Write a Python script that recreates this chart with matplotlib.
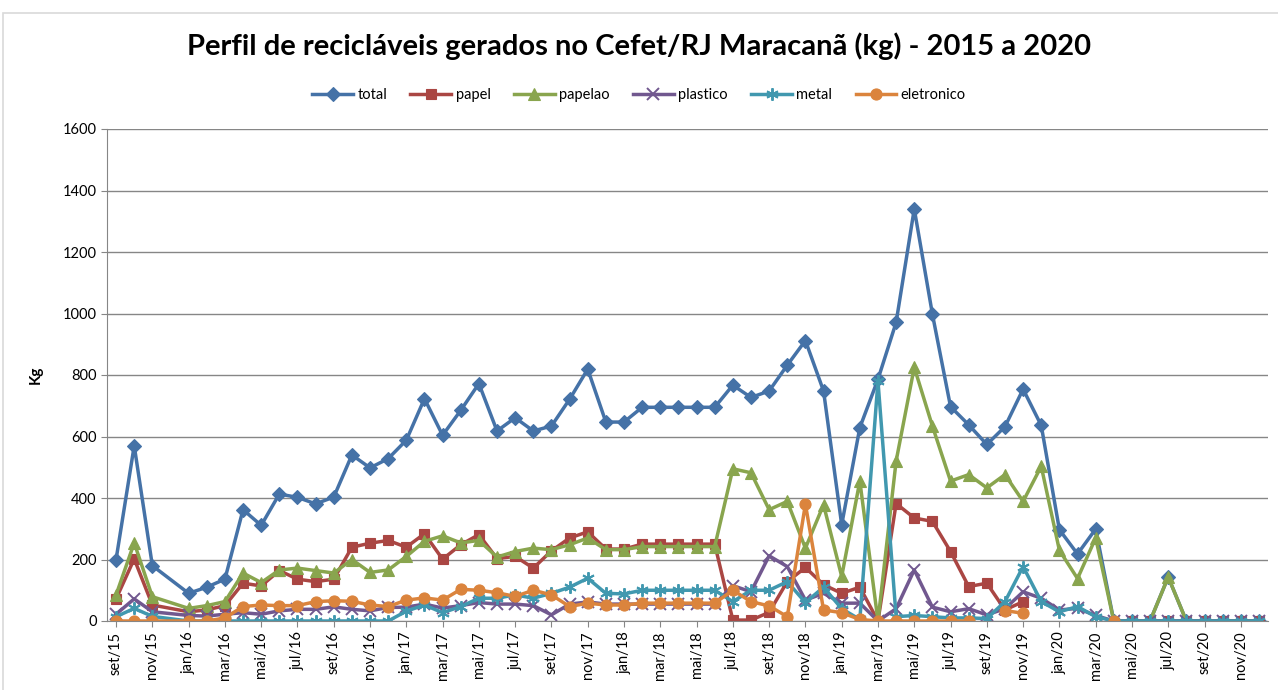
import numpy as np
import matplotlib
matplotlib.use("Agg")
import matplotlib.pyplot as plt
from matplotlib.patches import Rectangle

plt.rcParams['font.family'] = ['Lato', 'DejaVu Sans']

# eixo completo (datas mensais) e meses com registro (dez/15 não existe na planilha)
eixo = ['set/15', 'out/15', 'nov/15', 'dez/15',
        'jan/16', 'fev/16', 'mar/16', 'abr/16', 'mai/16', 'jun/16', 'jul/16', 'ago/16', 'set/16', 'out/16', 'nov/16', 'dez/16',
        'jan/17', 'fev/17', 'mar/17', 'abr/17', 'mai/17', 'jun/17', 'jul/17', 'ago/17', 'set/17', 'out/17', 'nov/17', 'dez/17',
        'jan/18', 'fev/18', 'mar/18', 'abr/18', 'mai/18', 'jun/18', 'jul/18', 'ago/18', 'set/18', 'out/18', 'nov/18', 'dez/18',
        'jan/19', 'fev/19', 'mar/19', 'abr/19', 'mai/19', 'jun/19', 'jul/19', 'ago/19', 'set/19', 'out/19', 'nov/19', 'dez/19',
        'jan/20', 'fev/20', 'mar/20', 'abr/20', 'mai/20', 'jun/20', 'jul/20', 'ago/20', 'set/20', 'out/20', 'nov/20', 'dez/20']
meses = [m for m in eixo if m != 'dez/15']

N = np.nan
total = [200, 570, 180,
         90, 110, 136, 362, 311, 413, 402, 381, 403, 540, 498, 528,
         588, 723, 604, 685, 772, 618, 661, 618, 634, 721, 819, 647,
         647, 695, 695, 695, 695, 695, 767, 727, 748, 832, 912, 748,
         313, 629, 786, 971, 1340, 998, 697, 638, 574, 632, 754, 636,
         297, 218, 299, 0, 0, 0, 143, 0, 0, 0, 0, 0]
papel = [72, 202, 52,
         30, 36, 50, 123, 114, 164, 136, 128, 136, 240, 253, 262,
         240, 284, 201, 248, 281, 203, 210, 172, 228, 270, 290, 234,
         234, 250, 250, 250, 250, 250, 3, 3, 28, 128, 174, 118,
         90, 110, 0, 382, 335, 324, 226, 112, 123, 36, 63, N,
         N, N, N, N, 0, 0, 0, 0, 0, 0, 0, 0]
papelao = [85, 254, 79,
           41, 50, 63, 156, 125, 166, 172, 164, 156, 200, 158, 166,
           210, 259, 277, 254, 262, 208, 226, 237, 232, 248, 270, 232,
           232, 242, 242, 242, 242, 242, 495, 482, 362, 389, 237, 378,
           145, 455, 0, 520, 825, 634, 455, 476, 433, 476, 389, 503,
           230, 138, 270, 0, 0, 0, 143, 0, 0, 0, 0, 0]
plastico = [22, 72, 30,
            18, 16, 22, 27, 22, 33, 38, 38, 46, 38, 33, 44,
            45, 55, 42, 50, 60, 55, 55, 50, 20, 55, 62, 55,
            55, 55, 55, 55, 55, 55, 115, 95, 212, 177, 68, 90,
            58, 58, 0, 40, 166, 45, 30, 40, 20, 40, 95, 74,
            36, 41, 18, 0, 0, 0, 0, 0, 0, 0, 0, 0]
metal = [14, 41, 15,
         0, 0, 0, 0, 0, 0, 0, 0, 0, 0, 0, 0,
         32, 52, 27, 47, 74, 74, 85, 74, 90, 110, 139, 90,
         88, 100, 100, 100, 100, 100, 63, 100, 100, 128, 60, 110,
         40, 5, 780, 14, 18, 14, 10, 10, 8, 63, 177, 63,
         30, 47, 14, 0, 0, 0, 0, 0, 0, 0, 0, 0]
eletronico = [0, 0, 0,
              0, 0, 10, 47, 52, 50, 50, 63, 66, 64, 52, 47,
              68, 75, 68, 103, 100, 92, 80, 100, 85, 47, 58, 52,
              52, 58, 58, 58, 58, 58, 100, 63, 49, 14, 380, 36,
              27, 5, 0, 0, 0, 0, 0, 0, N, 34, 25, N,
              N, N, N, 0, N, N, N, N, N, N, N, N]

series = [
    ('total', total, '#4572A7', 'D', 7),
    ('papel', papel, '#AA4643', 's', 7.5),
    ('papelao', papelao, '#89A54E', '^', 8.5),
    ('plastico', plastico, '#71588F', 'x', 8),
    ('metal', metal, '#4198AF', (6, 2, 0), 9),
    ('eletronico', eletronico, '#DB843D', 'o', 8),
]

x = [eixo.index(m) for m in meses]

fig = plt.figure(figsize=(12.78, 6.90), dpi=100)
ax = fig.add_axes([107 / 1278, 1 - 621 / 690, (1268 - 107) / 1278, (621 - 129) / 690])

# moldura do gráfico
fig.patches.append(Rectangle((3 / 1278, -0.05), 1.1, (690 - 13) / 690 + 0.05,
                             transform=fig.transFigure, fill=False,
                             edgecolor='#D9D9D9', lw=1.2))

for nome, vals, cor, mk, ms in series:
    fino = mk == 'x' or isinstance(mk, tuple)
    ax.plot(x, np.array(vals, dtype=float), color=cor, lw=2.5, marker=mk,
            markersize=ms, markeredgewidth=1.4 if fino else 0.8,
            markeredgecolor=cor, markerfacecolor=cor, label=nome)

ax.set_xlim(-0.5, len(eixo) - 0.5)
ax.set_ylim(0, 1600)
ax.set_yticks(np.arange(0, 1601, 200))
ax.set_xticks(range(0, len(eixo), 2))
ax.set_xticklabels(eixo[::2], rotation=90)
ax.tick_params(axis='both', labelsize=10.5, colors='#000000', length=4, color='#868686')
ax.grid(axis='y', color='#868686', lw=1)
ax.set_axisbelow(True)
for s in ('top', 'right'):
    ax.spines[s].set_visible(False)
for s in ('left', 'bottom'):
    ax.spines[s].set_color('#868686')

ax.set_ylabel('Kg', fontsize=11, fontweight='bold', labelpad=14)

fig.text(0.5, 1 - 46 / 690, 'Perfil de recicláveis gerados no Cefet/RJ Maracanã (kg) - 2015 a 2020',
         ha='center', va='center', fontsize=21, fontweight='bold')

fig.legend(loc='center', bbox_to_anchor=(0.5, 1 - 95 / 690), ncol=6, frameon=False,
           fontsize=10.5, handlelength=2.8, columnspacing=1.6, handletextpad=0.3)

fig.savefig('out.png', dpi=100)
